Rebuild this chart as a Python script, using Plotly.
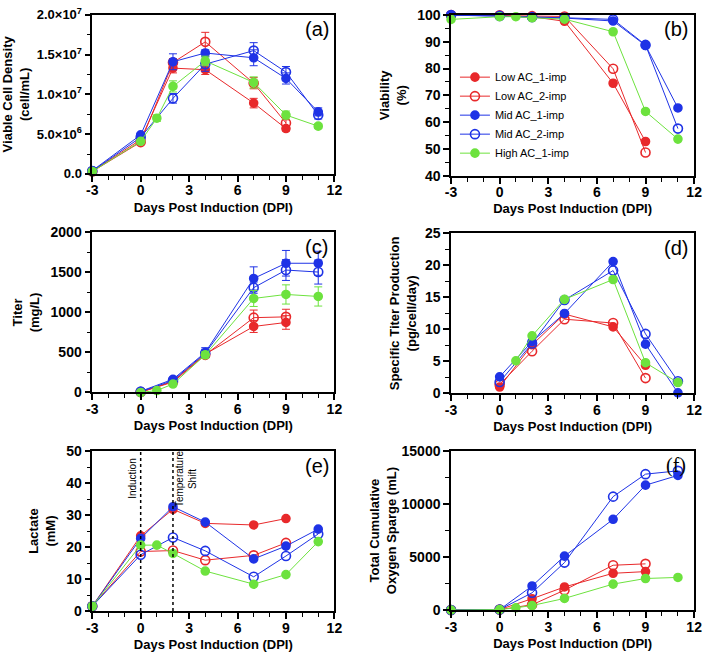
import plotly.graph_objects as go

# ---------------- data ----------------
series_names = ["Low AC_1-imp", "Low AC_2-imp", "Mid AC_1-imp", "Mid AC_2-imp", "High AC_1-imp"]
series_colors = ["#e8292b", "#e8292b", "#1f33e6", "#1f33e6", "#6de23e"]
series_open = [False, True, False, True, False]

days_low = [-3, 0, 2, 4, 7, 9]
days_mid = [-3, 0, 2, 4, 7, 9, 11]
days_high = [-3, 0, 1, 2, 4, 7, 9, 11]
x_tickvals = [-3, 0, 3, 6, 9, 12]
x_ticktext = ["-3", "0", "3", "6", "9", "12"]

# (a) viable cell density (cells/mL)
vcd_low1 = [0.35e6, 4.3e6, 13.3e6, 13.1e6, 8.9e6, 5.7e6]
vcd_low2 = [0.3e6, 4.0e6, 14.0e6, 16.6e6, 11.4e6, 6.4e6]
vcd_mid1 = [0.4e6, 4.9e6, 14.1e6, 15.2e6, 14.6e6, 12.0e6, 7.8e6]
vcd_mid2 = [0.35e6, 4.6e6, 9.5e6, 13.8e6, 15.5e6, 12.8e6, 7.4e6]
vcd_high1 = [0.3e6, 4.1e6, 7.0e6, 11.0e6, 14.2e6, 11.5e6, 7.4e6, 6.0e6]
vcd_err_low1 = [0.1e6, 0.2e6, 0.6e6, 0.6e6, 0.6e6, 0.3e6]
vcd_err_low2 = [0.1e6, 0.2e6, 0.5e6, 1.2e6, 0.7e6, 0.4e6]
vcd_err_mid1 = [0.1e6, 0.2e6, 1.0e6, 0.4e6, 1.0e6, 0.7e6, 0.5e6]
vcd_err_mid2 = [0.1e6, 0.2e6, 0.6e6, 0.9e6, 1.0e6, 0.7e6, 0.5e6]
vcd_err_high1 = [0.1e6, 0.2e6, 0.4e6, 0.7e6, 0.6e6, 0.7e6, 0.5e6, 0.3e6]
vcd_tickvals = [0, 5e6, 1e7, 1.5e7, 2e7]
vcd_ticktext = ["0.0", "5.0×10<sup>6</sup>", "1.0×10<sup>7</sup>", "1.5×10<sup>7</sup>", "2.0×10<sup>7</sup>"]

# (b) viability (%)
via_low1 = [99.8, 99.7, 99.3, 97.6, 74.5, 52.8]
via_low2 = [99.9, 99.8, 99.5, 99.4, 79.9, 48.7]
via_mid1 = [99.9, 99.6, 99.0, 98.8, 97.7, 88.6, 65.3]
via_mid2 = [99.9, 99.6, 99.2, 98.9, 98.3, 88.8, 57.6]
via_high1 = [98.3, 99.3, 99.3, 98.9, 98.4, 93.7, 64.0, 53.7]

# (c) titer (mg/L)
tdays_low = [0, 2, 4, 7, 9]
tdays_mid = [0, 2, 4, 7, 9, 11]
tdays_high = [0, 1, 2, 4, 7, 9, 11]
titer_low1 = [2, 140, 480, 825, 875]
titer_low2 = [5, 130, 470, 935, 945]
titer_mid1 = [15, 165, 500, 1425, 1615, 1615]
titer_mid2 = [10, 150, 490, 1310, 1530, 1505]
titer_high1 = [0, 25, 105, 470, 1175, 1225, 1200]
titer_err_low1 = [5, 15, 30, 75, 85]
titer_err_low2 = [5, 15, 30, 95, 95]
titer_err_mid1 = [5, 20, 60, 145, 160, 150]
titer_err_mid2 = [5, 20, 50, 70, 130, 150]
titer_err_high1 = [5, 5, 15, 40, 100, 120, 120]

# (d) specific titer production (pg/cell/day)
qdays_low = [0, 2, 4, 7, 9]
qdays_mid = [0, 2, 4, 7, 9, 11]
qdays_high = [1, 2, 4, 7, 9, 11]
qp_low1 = [1.0, 7.6, 12.4, 10.4, 4.4]
qp_low2 = [1.4, 6.6, 11.6, 11.0, 2.4]
qp_mid1 = [2.6, 8.1, 12.5, 20.6, 7.7, 0.1]
qp_mid2 = [1.8, 7.8, 14.6, 19.2, 9.3, 1.9]
qp_high1 = [5.1, 9.0, 14.7, 17.8, 4.8, 1.7]

# (e) lactate (mM)
lac_low1 = [1.5, 23.5, 31.8, 27.4, 26.9, 28.9]
lac_low2 = [1.5, 18.6, 18.9, 15.9, 17.4, 21.3]
lac_mid1 = [1.5, 22.7, 32.6, 27.8, 16.3, 20.3, 25.6]
lac_mid2 = [1.5, 17.6, 23.0, 18.8, 10.7, 17.2, 24.1]
lac_high1 = [1.5, 20.6, 20.6, 18.0, 12.5, 8.4, 11.4, 21.7]
event_days = [0, 2]
event_labels = ["Induction", "Temperature<br>Shift"]

# (f) total cumulative oxygen sparge (mL)
o2_low1 = [0, 50, 1070, 2180, 3470, 3630]
o2_low2 = [0, 50, 500, 1880, 4230, 4360]
o2_mid1 = [0, 50, 2270, 5090, 8560, 11780, 12700]
o2_mid2 = [0, 50, 1630, 4480, 10700, 12820, 13130]
o2_high1 = [0, 50, 215, 430, 1100, 2450, 2980, 3080]

panel_labels = ["(a)", "(b)", "(c)", "(d)", "(e)", "(f)"]
x_title = "Days Post Induction (DPI)"
y_titles = ["Viable Cell Density<br>(cell/mL)", "Viability<br>(%)", "Titer<br>(mg/L)",
            "Specific Titer Production<br>(pg/cell/day)", "Lactate<br>(mM)",
            "Total Cumulative<br>Oxygen Sparge (mL)"]

# ---------------- figure ----------------
W, H = 709, 662
FONT = "Liberation Sans, Arial, Helvetica, sans-serif"

# pixel boxes of the six panels (left, right, top, bottom)
boxes = [(88, 335, 7, 170), (454, 702, 7, 172),
         (88, 335, 230, 394), (454, 702, 231, 395),
         (88, 335, 454, 618), (454, 702, 454, 617)]
yranges = [[0, 2e7], [40, 100], [0, 2000], [0, 25], [0, 50], [0, 15000]]
ydticks = [5e6, 10, 500, 5, 10, 5000]
ystandoffs = [8, 8, 8, 5, 8, 2]

fig = go.Figure()

panels = [
    ([days_low, days_low, days_mid, days_mid, days_high],
     [vcd_low1, vcd_low2, vcd_mid1, vcd_mid2, vcd_high1],
     [vcd_err_low1, vcd_err_low2, vcd_err_mid1, vcd_err_mid2, vcd_err_high1]),
    ([days_low, days_low, days_mid, days_mid, days_high],
     [via_low1, via_low2, via_mid1, via_mid2, via_high1], None),
    ([tdays_low, tdays_low, tdays_mid, tdays_mid, tdays_high],
     [titer_low1, titer_low2, titer_mid1, titer_mid2, titer_high1],
     [titer_err_low1, titer_err_low2, titer_err_mid1, titer_err_mid2, titer_err_high1]),
    ([qdays_low, qdays_low, qdays_mid, qdays_mid, qdays_high],
     [qp_low1, qp_low2, qp_mid1, qp_mid2, qp_high1], None),
    ([days_low, days_low, days_mid, days_mid, days_high],
     [lac_low1, lac_low2, lac_mid1, lac_mid2, lac_high1], None),
    ([days_low, days_low, days_mid, days_mid, days_high],
     [o2_low1, o2_low2, o2_mid1, o2_mid2, o2_high1], None),
]

for p, (xs, ys, errs) in enumerate(panels):
    ax = "" if p == 0 else str(p + 1)
    for s in range(5):
        col = series_colors[s]
        marker = dict(color=col, size=9 if series_open[s] else 8,
                      symbol="circle-open" if series_open[s] else "circle",
                      line=dict(width=1.6, color=col))
        tr = dict(x=xs[s], y=ys[s], mode="lines+markers", name=series_names[s],
                  line=dict(color=col, width=1), marker=marker,
                  xaxis="x" + ax, yaxis="y" + ax, cliponaxis=False,
                  showlegend=(p == 1), legendgroup=series_names[s])
        if errs is not None:
            tr["error_y"] = dict(type="data", array=errs[s], visible=True,
                                 color=col, thickness=1, width=4)
        fig.add_trace(go.Scatter(**tr))

tickfont = dict(family=FONT, size=14, color="black", weight="bold")
titlefont = dict(family=FONT, size=13, color="black", weight="bold")

for p in range(6):
    l, r, t, b = boxes[p]
    xkey = "xaxis" if p == 0 else "xaxis%d" % (p + 1)
    ykey = "yaxis" if p == 0 else "yaxis%d" % (p + 1)
    anchor_x = "x" if p == 0 else "x%d" % (p + 1)
    anchor_y = "y" if p == 0 else "y%d" % (p + 1)
    xa = dict(domain=[l / W, r / W], anchor=anchor_y, range=[-3, 12],
              tickmode="array", tickvals=x_tickvals, ticktext=x_ticktext,
              showline=True, linecolor="black", linewidth=1.5, mirror=True,
              ticks="outside", ticklen=6, tickwidth=1.5, tickcolor="black",
              ticklabelstandoff=-3,
              minor=dict(dtick=1, tick0=-3, ticks="outside", ticklen=4, tickwidth=1.2, tickcolor="black"),
              showgrid=False, zeroline=False, tickfont=tickfont,
              title=dict(text=x_title, font=titlefont, standoff=5))
    ya = dict(domain=[1 - b / H, 1 - t / H], anchor=anchor_x, range=yranges[p],
              showline=True, linecolor="black", linewidth=1.5, mirror=True,
              ticks="outside", ticklen=6, tickwidth=1.5, tickcolor="black",
              minor=dict(dtick=ydticks[p] / 2, tick0=yranges[p][0], ticks="outside",
                         ticklen=4, tickwidth=1.2, tickcolor="black"),
              showgrid=False, zeroline=False, tickfont=tickfont,
              title=dict(text=y_titles[p], font=titlefont, standoff=ystandoffs[p]))
    if p == 0:
        ya.update(tickmode="array", tickvals=vcd_tickvals, ticktext=vcd_ticktext,
                  tickfont=dict(family=FONT, size=13, color="black", weight="bold"))
    else:
        ya.update(tickmode="linear", tick0=yranges[p][0], dtick=ydticks[p], tickformat="d")
    fig.update_layout({xkey: xa, ykey: ya})

    # panel letter
    fig.add_annotation(text=panel_labels[p], xref="paper", yref="paper",
                       x=(r - 18) / W, y=1 - (t + 15) / H, xanchor="center", yanchor="middle",
                       showarrow=False,
                       font=dict(family=("Liberation Serif, Times New Roman, serif" if p == 5 else FONT),
                                 size=20, color="black"))

# (e) event lines and labels
for d, lab, dx in zip(event_days, event_labels, [-0.5, 0.8]):
    fig.add_shape(type="line", xref="x5", yref="y5", x0=d, x1=d, y0=0, y1=50,
                  line=dict(color="black", width=1.5, dash="dot"))
    fig.add_annotation(text=lab, xref="x5", yref="y5", x=d + dx, y=41.5, textangle=-90,
                       showarrow=False, xanchor="center", yanchor="middle",
                       font=dict(family=FONT, size=10, color="black"))

fig.update_layout(
    width=W, height=H, margin=dict(l=0, r=0, t=0, b=0),
    paper_bgcolor="white", plot_bgcolor="white",
    legend=dict(x=458 / W, y=1 - 56 / H, xanchor="left", yanchor="top",
                bgcolor="rgba(0,0,0,0)", font=dict(family=FONT, size=11, color="black"),
                tracegroupgap=0, itemwidth=30),
    showlegend=True,
)

fig.write_html("out.html")
